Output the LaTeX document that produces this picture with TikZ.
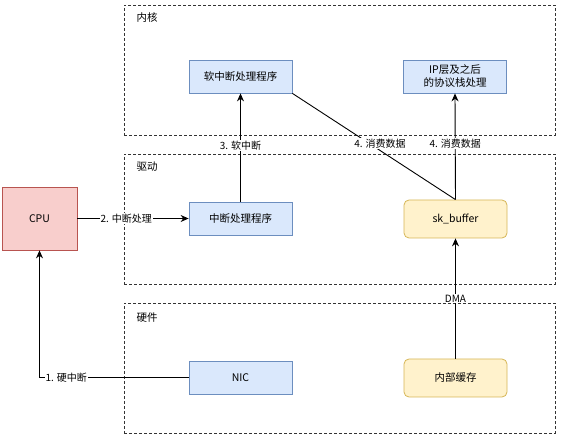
\documentclass[tikz,border=0pt]{standalone}
\usepackage{fontspec}
\setmainfont{Noto Sans CJK SC}
\usepackage{xcolor}
\usepackage{tikz}
\usetikzlibrary{positioning,arrows.meta}

\definecolor{blueFill}{HTML}{DAE8FC}
\definecolor{blueLine}{HTML}{6C8EBF}
\definecolor{yellowFill}{HTML}{FFF2CC}
\definecolor{yellowLine}{HTML}{D6B656}
\definecolor{redFill}{HTML}{F8CECC}
\definecolor{redLine}{HTML}{B85450}

\begin{document}
\begin{tikzpicture}[x=1pt, y=-1pt,
  font=\fontsize{10.5}{13}\selectfont,
  layer/.style={draw=black!80, dashed, dash pattern=on 3pt off 2pt, line width=0.9pt,
    minimum width=431pt, minimum height=130pt, inner sep=0pt},
  layername/.style={anchor=west},
  bluebox/.style={draw=blueLine, fill=blueFill, line width=0.8pt,
    minimum width=103pt, minimum height=33pt, align=center, inner sep=1pt},
  yellowbox/.style={draw=yellowLine, fill=yellowFill, line width=0.8pt, rounded corners=5pt,
    minimum width=103pt, minimum height=38pt, align=center},
  flow/.style={-{Stealth[length=8pt,width=7pt]}, line width=0.9pt},
  tag/.style={fill=white, inner sep=1pt, font=\fontsize{10}{12}\selectfont}]
\useasboundingbox (0,0) rectangle (566,441);
% ---- layers ----
\node[layer] (kernel) at (339.5,70) {};
\node[layername] (kernelname) at (133,18) {内核};
\node[layer] (driver) at (339.5,219) {};
\node[layername] (drivername) at (133,167) {驱动};
\node[layer] (hardware) at (339.5,368) {};
\node[layername] (hardwarename) at (133,318) {硬件};
% ---- boxes ----
\node[draw=redLine, fill=redFill, line width=0.8pt, minimum width=75pt, minimum height=63pt] (cpu) at (39.5,218.5) {CPU};
\node[bluebox] (softirq) at (240.5,76.5) {软中断处理程序};
\node[bluebox] (ipstack) at (455,76.5) {IP层及之后\\的协议栈处理};
\node[bluebox] (irq) at (240.5,218.5) {中断处理程序};
\node[yellowbox] (skbuf) at (455.5,219) {sk\_buffer};
\node[bluebox] (nic) at (240.5,377.5) {NIC};
\node[yellowbox] (nicbuf) at (455.5,378) {内部缓存};
% ---- connectors ----
\draw[flow] (nic.west) -| node[tag, pos=0.41] {1. 硬中断} (cpu.south);
\draw[flow] (cpu.east) -- node[tag, pos=0.44] {2. 中断处理} (irq.west);
\draw[flow] (irq.north) -- node[tag, pos=0.52] {3. 软中断} (softirq.south);
\draw[line width=0.9pt] (softirq.south east) -- node[tag, pos=0.47, xshift=11pt] {4. 消费数据} (skbuf.north);
\draw[flow] (skbuf.north) -- node[tag, pos=0.53] {4. 消费数据} (ipstack.south);
\draw[flow] (nicbuf.north) -- node[tag, pos=0.5] {DMA} (skbuf.south);
\end{tikzpicture}
\end{document}
